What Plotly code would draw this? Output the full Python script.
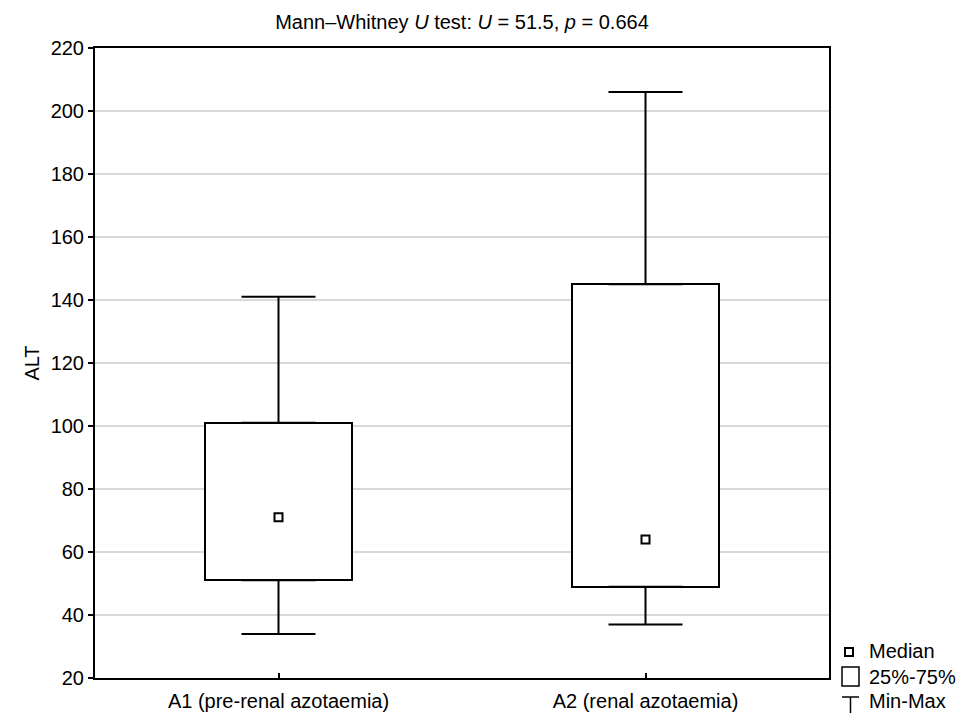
import plotly.graph_objects as go

# Summary statistics of ALT per group
groups = ["A1 (pre-renal azotaemia)", "A2 (renal azotaemia)"]
alt_min = [34, 37]
alt_q1 = [51, 49]
alt_median = [71, 64]
alt_q3 = [101, 145]
alt_max = [141, 206]

y_ticks = [20, 40, 60, 80, 100, 120, 140, 160, 180, 200, 220]

FONT = "Liberation Sans, Arial, sans-serif"
FS = 20
W, H = 963, 713
ML, MR, MT, MB = 95, 134, 48, 35


def px_to_paper(px, py):
    """Convert page pixel position into paper coordinates."""
    pw = W - ML - MR
    ph = H - MT - MB
    return (px - ML) / pw, (H - MB - py) / ph


fig = go.Figure()

# Interquartile boxes
fig.add_trace(go.Bar(
    x=groups,
    base=alt_q1,
    y=[q3 - q1 for q1, q3 in zip(alt_q1, alt_q3)],
    width=0.4,
    marker=dict(color="white", line=dict(color="black", width=2)),
    showlegend=False,
    hoverinfo="skip",
))

# Upper whiskers (Q3 -> max)
fig.add_trace(go.Scatter(
    x=groups, y=alt_q3, mode="markers",
    marker=dict(size=1, opacity=0),
    error_y=dict(type="data", symmetric=False,
                 array=[mx - q3 for mx, q3 in zip(alt_max, alt_q3)],
                 arrayminus=[0, 0], width=37, thickness=2, color="black"),
    showlegend=False, hoverinfo="skip",
))

# Lower whiskers (min -> Q1)
fig.add_trace(go.Scatter(
    x=groups, y=alt_q1, mode="markers",
    marker=dict(size=1, opacity=0),
    error_y=dict(type="data", symmetric=False,
                 array=[0, 0],
                 arrayminus=[q1 - mn for q1, mn in zip(alt_q1, alt_min)],
                 width=37, thickness=2, color="black"),
    showlegend=False, hoverinfo="skip",
))

# Medians
fig.add_trace(go.Scatter(
    x=groups, y=alt_median, mode="markers",
    marker=dict(symbol="square-open", size=8, color="black",
                line=dict(width=2, color="black")),
    showlegend=False, hoverinfo="skip",
))

# Hand-drawn legend in the lower-right margin
shapes = []
annotations = []

x0, y0 = px_to_paper(845, 648)
x1, y1 = px_to_paper(853, 656)
shapes.append(dict(type="rect", xref="paper", yref="paper",
                   x0=x0, y0=y0, x1=x1, y1=y1,
                   line=dict(color="black", width=2), fillcolor="white"))

x0, y0 = px_to_paper(842, 667)
x1, y1 = px_to_paper(859, 686)
shapes.append(dict(type="rect", xref="paper", yref="paper",
                   x0=x0, y0=y0, x1=x1, y1=y1,
                   line=dict(color="black", width=1.5), fillcolor="white"))

x0, yb = px_to_paper(842, 697)
x1, _ = px_to_paper(859, 697)
shapes.append(dict(type="line", xref="paper", yref="paper",
                   x0=x0, y0=yb, x1=x1, y1=yb,
                   line=dict(color="black", width=1.5)))
xm, ye = px_to_paper(850.5, 716)
shapes.append(dict(type="line", xref="paper", yref="paper",
                   x0=xm, y0=yb, x1=xm, y1=ye,
                   line=dict(color="black", width=1.5)))

for label, py in [("Median", 651), ("25%-75%", 677), ("Min-Max", 701)]:
    ax, ay = px_to_paper(867, py)
    annotations.append(dict(text=label, xref="paper", yref="paper",
                            x=ax, y=ay, xanchor="left", yanchor="middle",
                            showarrow=False,
                            font=dict(family=FONT, size=FS, color="black")))

fig.update_layout(
    width=W, height=H,
    margin=dict(l=ML, r=MR, t=MT, b=MB, autoexpand=False),
    paper_bgcolor="white", plot_bgcolor="white",
    font=dict(family=FONT, size=FS, color="black"),
    title=dict(
        text="Mann\u2013Whitney <i>U</i> test: <i>U</i> = 51.5, <i>p</i> = 0.664",
        x=0.5, xanchor="center", xref="paper",
        y=1 - 22 / H, yanchor="middle", yref="container",
        font=dict(family=FONT, size=FS, color="black"),
    ),
    xaxis=dict(
        type="category", range=[-0.5, 1.5], automargin=False,
        showgrid=False, showline=True, linecolor="black", linewidth=2,
        mirror=True, ticks="inside", ticklen=5, tickwidth=2, tickcolor="black",
        tickfont=dict(family=FONT, size=FS), ticklabelstandoff=4,
    ),
    yaxis=dict(
        range=[20, 220], tickvals=y_ticks, automargin=False,
        showgrid=True, gridcolor="#d9d9d9", gridwidth=2,
        zeroline=False,
        showline=True, linecolor="black", linewidth=2, mirror=True,
        ticks="outside", ticklen=5, tickwidth=2, tickcolor="black",
        tickfont=dict(family=FONT, size=FS),
        title=dict(text="ALT", font=dict(family=FONT, size=FS), standoff=6),
    ),
    yaxis2=dict(
        overlaying="y", side="right", range=[20, 220], tickvals=y_ticks,
        showgrid=False, zeroline=False, showline=False, automargin=False,
        ticks="inside", ticklen=5, tickwidth=2, tickcolor="black",
        showticklabels=False,
    ),
    shapes=shapes,
    annotations=annotations,
    bargap=0,
)

fig.write_html("out.html")
